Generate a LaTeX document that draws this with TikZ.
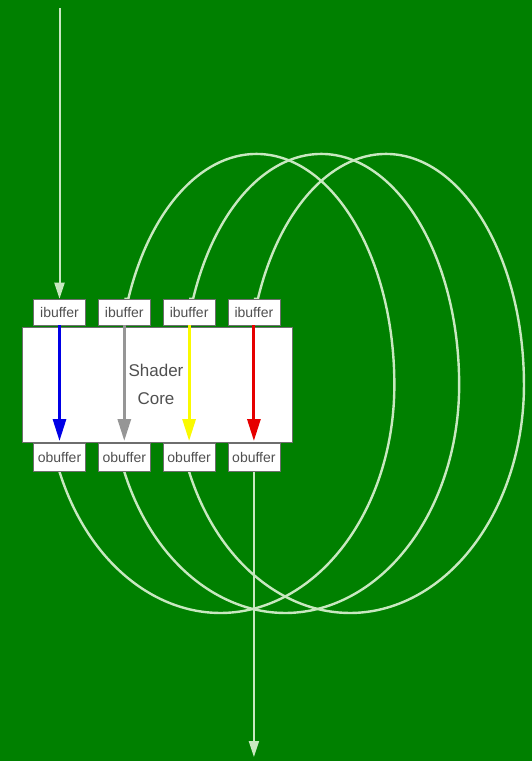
\documentclass[tikz,border=0pt]{standalone}
\usepackage{fontspec}
\setmainfont{Liberation Sans}
\usetikzlibrary{arrows.meta,backgrounds}
\definecolor{bggreen}{RGB}{0,128,0}
\definecolor{wire}{RGB}{200,232,192}
\definecolor{txtgray}{RGB}{80,80,80}
\definecolor{boxedge}{RGB}{110,110,110}
\definecolor{cblue}{RGB}{0,0,230}
\definecolor{cgray}{RGB}{150,150,150}
\definecolor{cyellow}{RGB}{250,250,0}
\definecolor{cred}{RGB}{230,0,0}
\tikzset{
  buf/.style={draw=boxedge, line width=0.6pt, fill=white, minimum width=52pt, inner sep=0pt,
    text=txtgray, font=\fontsize{14}{14}\selectfont},
  ibuf/.style={buf, minimum height=26pt},
  obuf/.style={buf, minimum height=28pt},
  corebox/.style={draw=boxedge, line width=0.6pt, fill=white, minimum width=270pt, minimum height=115pt, inner sep=0pt},
  flow/.style={line width=3pt, -{Triangle[length=22pt,width=13pt]}},
  loopline/.style={draw=wire, line width=2.4pt},
  io/.style={draw=wire, line width=2pt, -{Triangle[length=16pt,width=10pt]}}
}
\begin{document}
\begin{tikzpicture}[x=1pt,y=1pt]
\useasboundingbox (0,0) rectangle (532,-761);
% core and buffers
\node[corebox] (core) at (157,-384.5) {};
\node[ibuf] (ib1) at (59.5,-312) {ibuffer};
\node[ibuf] (ib2) at (124.3,-312) {ibuffer};
\node[ibuf] (ib3) at (189.1,-312) {ibuffer};
\node[ibuf] (ib4) at (253.9,-312) {ibuffer};
\node[obuf] (ob1) at (59.5,-457.5) {obuffer};
\node[obuf] (ob2) at (124.3,-457.5) {obuffer};
\node[obuf] (ob3) at (189.1,-457.5) {obuffer};
\node[obuf] (ob4) at (253.9,-457.5) {obuffer};
\node[text=txtgray, align=center, font=\fontsize{17}{28}\selectfont] (lbl) at (156,-384) {Shader\\Core};
% coloured flows inside the core
\coordinate (e1) at (ob1.north |- 0,-441);
\coordinate (e2) at (ob2.north |- 0,-441);
\coordinate (e3) at (ob3.north |- 0,-441);
\coordinate (e4) at (ob4.north |- 0,-441);
\draw[flow, cblue] (ib1.south) -- (e1);
\draw[flow, cgray] (ib2.south) -- (e2);
\draw[flow, cyellow] (ib3.south) -- (e3);
\draw[flow, cred] (ib4.south) -- (e4);
% input / output
\coordinate (in) at (59.5,-8);
\coordinate (out) at (253.9,-757);
\draw[io] (in) -- (ib1.north);
\begin{pgfonlayer}{background}
\fill[bggreen] (0,0) rectangle (532,-761);
\draw[loopline] (ob1.south) arc[start angle=202.4, end angle=360, x radius=174, y radius=228]
  arc[start angle=0, end angle=158.1, x radius=138, y radius=231] -- (ib2.north);
\draw[loopline] (ob2.south) arc[start angle=202.4, end angle=360, x radius=174, y radius=228]
  arc[start angle=0, end angle=158.1, x radius=138, y radius=231] -- (ib3.north);
\draw[loopline] (ob3.south) arc[start angle=202.4, end angle=360, x radius=174, y radius=228]
  arc[start angle=0, end angle=158.1, x radius=138, y radius=231] -- (ib4.north);
\draw[io] (ob4.south) -- (out);
\end{pgfonlayer}
\end{tikzpicture}
\end{document}
